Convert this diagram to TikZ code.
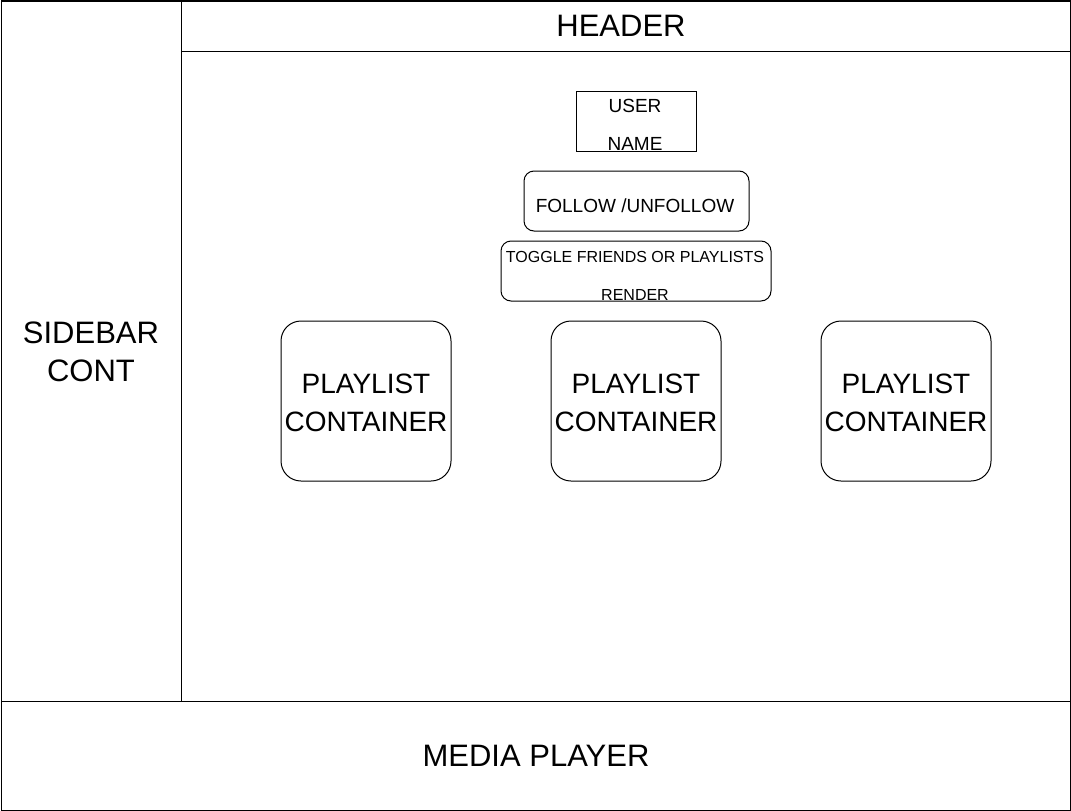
\documentclass[tikz,border=0pt]{standalone}
\usepackage{fontspec}
\setmainfont{Liberation Sans}
\newcommand{\pxfont}[1]{\fontsize{#1}{38}\selectfont}

\begin{document}
\begin{tikzpicture}[x=1pt,y=-1pt,
    panel/.style={draw, line width=1pt, inner sep=0pt, anchor=north west},
    txt/.style={align=center, inner sep=0pt}]
    \useasboundingbox (0,0) rectangle (1071,811);

    % page layout
    \node[panel, minimum width=1069, minimum height=809] (page) at (0.5,0.5) {};
    \node[panel, minimum width=180, minimum height=700] (sidebar) at (0.5,0.5) {};
    \node[panel, minimum width=889, minimum height=50] (header) at (180.5,0.5) {};
    \node[panel, minimum width=1069, minimum height=109] (media) at (0.5,700.5) {};

    \node[txt, font=\pxfont{31}] (sidebartxt) at (91,352) {SIDEBAR\\CONT};
    \node[txt, font=\pxfont{31}] (headertxt) at (621,26) {HEADER};
    \node[txt, font=\pxfont{31}] (mediatxt) at (536,756) {MEDIA PLAYER};

    % profile boxes
    \node[panel, minimum width=120, minimum height=60] (user) at (575.5,90.5) {};
    \node[panel, rounded corners=10, minimum width=225, minimum height=60] (follow) at (523.5,170.5) {};
    \node[panel, rounded corners=10, minimum width=270, minimum height=60] (toggle) at (500.5,240.5) {};

    \node[txt, font=\pxfont{19}] (usertxt) at (635,125) {USER\\NAME};
    \node[txt, font=\pxfont{19}] (followtxt) at (635,206) {FOLLOW /UNFOLLOW};
    \node[txt, font=\pxfont{16}] (toggletxt) at (635,276) {TOGGLE FRIENDS OR PLAYLISTS\\RENDER};

    % playlists
    \foreach \i/\x in {1/280.5, 2/550.5, 3/820.5} {
        \node[panel, rounded corners=20, minimum width=170, minimum height=160] (playlist\i) at (\x,320.5) {};
        \node[txt, font=\pxfont{28}] (playlisttxt\i) at ([yshift=-2pt]playlist\i.center) {PLAYLIST\\CONTAINER};
    }
\end{tikzpicture}
\end{document}
